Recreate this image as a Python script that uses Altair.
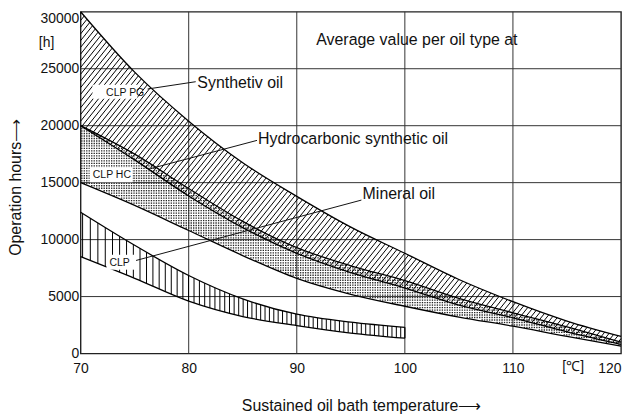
import numpy as np
import pandas as pd
import altair as alt

# ---------------- data ----------------
temps = [70, 75, 80, 85, 90, 95, 100, 105, 110, 115, 120]
pg_upper = [30000, 24700, 20400, 16750, 13800, 11100, 8800, 6500, 4550, 2850, 1500]
pg_lower = [20000, 17000, 13830, 11050, 8800, 7100, 5750, 4250, 3140, 1900, 800]
hc_upper = [20000, 17500, 14480, 11600, 9300, 7700, 6400, 4850, 3580, 2350, 1000]
hc_lower = [15000, 13000, 10800, 8600, 6600, 5200, 4150, 3200, 2400, 1500, 650]
min_temps = [70, 75, 80, 85, 90, 95, 100]
min_upper = [12400, 9500, 6850, 4800, 3450, 2750, 2300]
min_lower = [8500, 6600, 4600, 3250, 2450, 1800, 1350]

x_ticks = [70, 80, 90, 100, 110, 120]
y_ticks = [0, 5000, 10000, 15000, 20000, 25000, 30000]
x_grid = [80, 90, 100, 110]
y_grid = [5000, 10000, 15000, 20000, 25000]

ann_text = ["Average value per oil type at", "Synthetiv oil",
            "Hydrocarbonic synthetic oil", "Mineral oil"]
ann_x = [91.8, 80.8, 86.41, 96.09]
ann_y = [27060, 23310, 18420, 13600]

clp_text = ["CLP PG", "CLP HC", "CLP"]
clp_x = [72.36, 71.13, 72.67]
clp_y = [22630, 15365, 7648]
box_x1 = [71.1, 70.83, 72.39]
box_x2 = [75.25, 74.79, 74.97]
box_y1 = [22375, 15040, 7360]
box_y2 = [23600, 16350, 8670]

lead_x1 = [76.2, 76.51, 75.13]
lead_y1 = [23220, 16240, 8170]
lead_x2 = [80.65, 86.32, 95.98]
lead_y2 = [23860, 18710, 13470]

unit_text = ["[h]", "[\u2103]"]
unit_x = [66.13, 114.57]
unit_y = [26915, -1520]

FONT = "Liberation Sans"
W, H = 543.3, 343.6
X0, X1, Y0, Y1 = 70, 120, 0, 30000
sx = W / (X1 - X0)
sy = H / (Y1 - Y0)


# ---------------- helpers (d3 monotoneX equivalent) ----------------
def mono(xs, ys, xq):
    xs = np.asarray(xs, float)
    ys = np.asarray(ys, float)
    xq = np.asarray(xq, float)
    n = len(xs)
    h = np.diff(xs)
    s = np.diff(ys) / h
    t = np.zeros(n)
    for i in range(1, n - 1):
        h0, h1, s0, s1 = h[i - 1], h[i], s[i - 1], s[i]
        p = (s0 * h1 + s1 * h0) / (h0 + h1)
        sg = (1 if s0 >= 0 else -1) + (1 if s1 >= 0 else -1)
        t[i] = sg * min(abs(s0), abs(s1), 0.5 * abs(p))
    t[0] = (3 * s[0] - t[1]) / 2
    t[-1] = (3 * s[-1] - t[-2]) / 2
    idx = np.clip(np.searchsorted(xs, xq, side="right") - 1, 0, n - 2)
    u = (xq - xs[idx]) / h[idx]
    hh = h[idx]
    h00 = 2 * u**3 - 3 * u**2 + 1
    h10 = u**3 - 2 * u**2 + u
    h01 = -2 * u**3 + 3 * u**2
    h11 = u**3 - u**2
    return h00 * ys[idx] + h10 * hh * t[idx] + h01 * ys[idx + 1] + h11 * hh * t[idx + 1]


def to_px(tx):
    return (np.asarray(tx, float) - X0) * sx


def to_tx(px):
    return X0 + np.asarray(px, float) / sx


# ---------------- diagonal hatch for synthetic oil band ----------------
gx = np.linspace(0, W, 3000)
fU = mono(temps, pg_upper, to_tx(gx)) * sy
fL = mono(temps, pg_lower, to_tx(gx)) * sy
m = 1.25
spacing = 5.4
gL = fL - m * gx
gU = fU - m * gx
c_min = gL[-1]
c_max = gU[0]
hatch = []
c = c_max - 2.0
while c > c_min:
    if gL[0] <= c:
        xa = 0.0
    else:
        xa = float(np.interp(-c, -gL, gx))
    if gU[-1] >= c:
        xb = W
    else:
        xb = float(np.interp(-c, -gU, gx))
    if xb > xa:
        ya = m * xa + c
        yb = m * xb + c
        hatch.append((to_tx(xa), ya / sy, to_tx(xb), yb / sy))
    c -= m * spacing
hatch_df = pd.DataFrame(hatch, columns=["x", "y", "x2", "y2"])

# ---------------- vertical hatch for mineral oil band ----------------
vh = []
px = 2.0
while px < to_px(100) - 1:
    tx = float(to_tx(px))
    vh.append((tx, float(mono(min_temps, min_lower, [tx])[0]),
               float(mono(min_temps, min_upper, [tx])[0])))
    px += 4.4 + 3.4 * max(0.0, (85 - tx) / 15)
vh_df = pd.DataFrame(vh, columns=["x", "y", "y2"])

# ---------------- dotted fill for hydrocarbonic band ----------------
dots = []
for px in np.arange(1.2, W, 2.5):
    tx = float(to_tx(px))
    lo = float(mono(temps, hc_lower, [tx])[0]) * sy
    hi = float(mono(temps, hc_upper, [tx])[0]) * sy
    for py in np.arange(1.2, H, 2.5):
        if lo + 0.8 < py < hi - 0.8:
            dots.append((tx, py / sy))
dots_df = pd.DataFrame(dots, columns=["x", "y"])

# ---------------- band edge lines ----------------
rows = []
for name, xs, ys in [("pgU", temps, pg_upper), ("pgL", temps, pg_lower),
                     ("hcU", temps, hc_upper), ("hcL", temps, hc_lower),
                     ("mU", min_temps, min_upper), ("mL", min_temps, min_lower)]:
    for a, b in zip(xs, ys):
        rows.append({"curve": name, "x": a, "y": b})
edges_df = pd.DataFrame(rows)

xs_ = alt.Scale(domain=[X0, X1], nice=False, zero=False)
ys_ = alt.Scale(domain=[Y0, Y1], nice=False, zero=False)

base_x = alt.X("x:Q", scale=xs_,
               axis=alt.Axis(values=x_ticks, grid=False, domain=False, ticks=False, format="d",
                             labelFontSize=14, labelFont=FONT, labelColor="#111",
                             labelPadding=8, labelBaseline="top",
                             labelAlign=alt.condition("datum.value == 120", alt.value("right"), alt.value("center")),
                             title="Sustained oil bath temperature\u27f6",
                             titleFont=FONT, titleFontSize=16, titleFontWeight="normal",
                             titleColor="#111", titleX=282, titleY=57, titleBaseline="alphabetic"))
base_y = alt.Y("y:Q", scale=ys_,
               axis=alt.Axis(values=y_ticks, grid=False, domain=False, ticks=False, format="d",
                             labelFontSize=14, labelFont=FONT, labelColor="#111",
                             labelPadding=2,
                             labelBaseline=alt.condition("datum.value == 30000", alt.value("top"), alt.value("middle")),
                             title="Operation hours\u27f6",
                             titleFont=FONT, titleFontSize=16, titleFontWeight="normal",
                             titleColor="#111", titleX=-60.5, titleY=176, titleBaseline="alphabetic",
                             titleAngle=270))

xgrid = alt.Chart(pd.DataFrame({"x": x_grid})).mark_rule(color="#333", strokeWidth=1).encode(
    x=base_x, y=alt.datum(Y0, scale=ys_), y2=alt.datum(Y1))
ygrid = alt.Chart(pd.DataFrame({"y": y_grid})).mark_rule(color="#333", strokeWidth=1).encode(
    y=alt.Y("y:Q", scale=ys_), x=alt.datum(X0, scale=xs_), x2=alt.datum(X1))

dots_layer = alt.Chart(dots_df).mark_square(size=1.8, color="#222", opacity=1, strokeWidth=0).encode(
    x=alt.X("x:Q", scale=xs_), y=alt.Y("y:Q", scale=ys_))

hatch_layer = alt.Chart(hatch_df).mark_rule(color="#000", strokeWidth=1.0).encode(
    x=alt.X("x:Q", scale=xs_), y=alt.Y("y:Q", scale=ys_), x2="x2:Q", y2="y2:Q")

vh_layer = alt.Chart(vh_df).mark_rule(color="#000", strokeWidth=1.0).encode(
    x=alt.X("x:Q", scale=xs_), y=alt.Y("y:Q", scale=ys_), y2="y2:Q")

edges = alt.Chart(edges_df).mark_line(color="#000", strokeWidth=1.3, interpolate="monotone").encode(
    x=alt.X("x:Q", scale=xs_), y=alt.Y("y:Q", scale=ys_), detail="curve:N")

min_end = alt.Chart(pd.DataFrame({"x": [min_temps[-1]], "y": [min_lower[-1]], "y2": [min_upper[-1]]})).mark_rule(
    color="#000", strokeWidth=1.3).encode(x=alt.X("x:Q", scale=xs_), y=alt.Y("y:Q", scale=ys_), y2="y2:Q")

boxes = alt.Chart(pd.DataFrame({"x": box_x1, "x2": box_x2, "y": box_y1, "y2": box_y2})).mark_rect(
    color="white").encode(x=alt.X("x:Q", scale=xs_), x2="x2:Q", y=alt.Y("y:Q", scale=ys_), y2="y2:Q")

clp = alt.Chart(pd.DataFrame({"x": clp_x, "y": clp_y, "t": clp_text})).mark_text(
    align="left", baseline="alphabetic", font=FONT, fontSize=10.5, color="#111").encode(
    x=alt.X("x:Q", scale=xs_), y=alt.Y("y:Q", scale=ys_), text="t:N")

leaders = alt.Chart(pd.DataFrame({"x": lead_x1, "y": lead_y1, "x2": lead_x2, "y2": lead_y2})).mark_rule(
    color="#111", strokeWidth=1).encode(x=alt.X("x:Q", scale=xs_), y=alt.Y("y:Q", scale=ys_), x2="x2:Q", y2="y2:Q")

ann = alt.Chart(pd.DataFrame({"x": ann_x, "y": ann_y, "t": ann_text})).mark_text(
    align="left", baseline="alphabetic", font=FONT, fontSize=16, color="#111").encode(
    x=alt.X("x:Q", scale=xs_), y=alt.Y("y:Q", scale=ys_), text="t:N")

units = alt.Chart(pd.DataFrame({"x": unit_x, "y": unit_y, "t": unit_text})).mark_text(
    align="left", baseline="alphabetic", font=FONT, fontSize=14, color="#111", clip=False).encode(
    x=alt.X("x:Q", scale=xs_), y=alt.Y("y:Q", scale=ys_), text="t:N")

axes = alt.Chart(pd.DataFrame({"x": [X0], "y": [Y0]})).mark_point(opacity=0).encode(x=base_x, y=base_y)

chart = alt.layer(axes, xgrid, ygrid, dots_layer, hatch_layer, vh_layer, edges, min_end,
                  boxes, clp, leaders, ann, units).properties(
    width=W, height=H,
    autosize=alt.AutoSizeParams(type="none"),
    padding={"left": 73, "top": 2.7, "right": 2, "bottom": 60},
    background="white",
).configure_view(stroke="#222", strokeWidth=1.4)

chart.save("out.html", embed_options={"renderer": "svg", "actions": False})
